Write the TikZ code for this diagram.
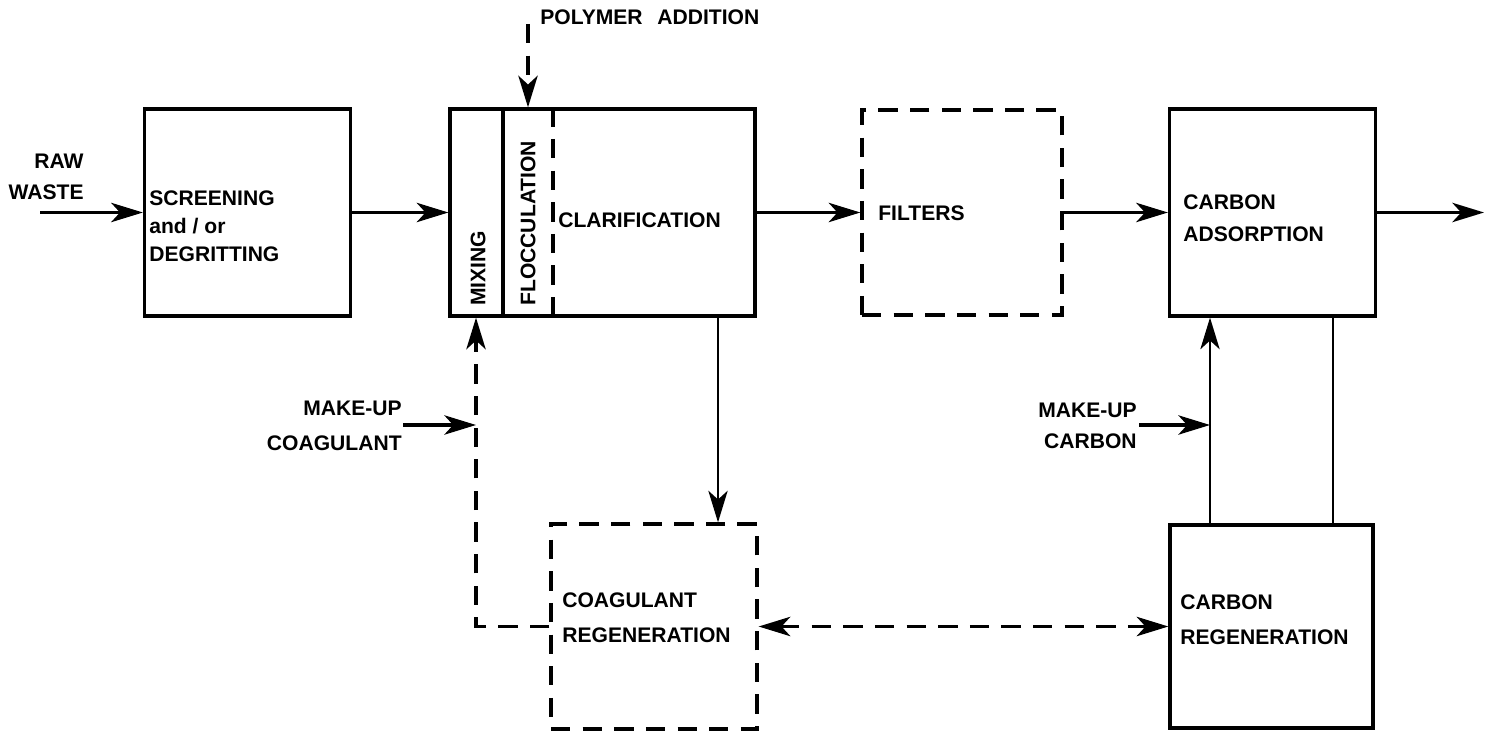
\documentclass[tikz,border=0pt]{standalone}
\usepackage{fontspec}
\setmainfont{Liberation Sans}
\usetikzlibrary{arrows.meta}
\tikzstyle{blk}=[draw,line width=1.9pt,inner sep=0pt,minimum width=4.12cm,minimum height=4.14cm]
\tikzstyle{dblk}=[blk,dash pattern=on 11pt off 7pt]
\tikzstyle{txt}=[inner sep=0pt,font=\bfseries\fontsize{12}{18}\selectfont,align=left]
\tikzstyle{arr}=[line width=1.9pt,->]
\tikzstyle{darr}=[arr,dash pattern=on 11pt off 7pt]
\tikzstyle{thinln}=[line width=1.3pt]

\begin{document}
\begin{tikzpicture}[x=.02cm,y=-.02cm,>={Stealth[length=18pt,width=11pt,inset=5pt]}]
\useasboundingbox (0,0) rectangle (1486,733);
% process boxes
\node[blk] (scr) at (247.5,212.5) {};
\node[blk,minimum width=6.1cm] (clar) at (602.5,212.5) {};
\node[dblk,minimum width=4cm,minimum height=4.1cm] (filt) at (962,212.5) {};
\node[blk] (cads) at (1272.5,212.5) {};
\node[dblk,minimum height=4.1cm] (creg) at (654,626.5) {};
\node[blk,minimum width=4.06cm,minimum height=4.06cm] (kreg) at (1271.5,626.5) {};
% labels
\node[txt,align=right,anchor=east] (rawt) at (84,177) {RAW\\WASTE};
\node[txt,anchor=west,font=\bfseries\fontsize{12}{16}\selectfont] (scrt) at (149,226) {SCREENING\\and / or\\DEGRITTING};
\node[txt,rotate=90,anchor=west] (mixt) at (478,306) {MIXING};
\node[txt,rotate=90,anchor=west] (floct) at (528,306) {FLOCCULATION};
\node[txt,anchor=west] (clart) at (558,220) {CLARIFICATION};
\node[txt,anchor=west] (filtt) at (878,213) {FILTERS};
\node[txt,anchor=west] (cadst) at (1183,218) {CARBON\\ADSORPTION};
\node[txt,anchor=west,font=\bfseries\fontsize{12}{20}\selectfont] (cregt) at (562,618) {COAGULANT\\REGENERATION};
\node[txt,anchor=west,font=\bfseries\fontsize{12}{20}\selectfont] (kregt) at (1180,620) {CARBON\\REGENERATION};
\node[txt,anchor=west] (polyt) at (540,17) {POLYMER\hspace{.7em}ADDITION};
\node[txt,align=right,anchor=east,font=\bfseries\fontsize{12}{20}\selectfont] (mkct) at (402,426) {MAKE-UP\\COAGULANT};
\node[txt,align=right,anchor=east,font=\bfseries\fontsize{12}{18}\selectfont] (mkkt) at (1137,426) {MAKE-UP\\CARBON};
% free ends and drop points
\coordinate (rawin) at (40,212.5);
\coordinate (out) at (1484,212.5);
\coordinate (mx) at (503,0);
\coordinate (fl) at (553,0);
\coordinate (poly) at (528,24);
\coordinate (cd) at (718,0);
\coordinate (mr) at (476,0);
\coordinate (mcin) at (403,425);
\coordinate (cu) at (1210,0);
\coordinate (cr) at (1333,0);
\coordinate (mkin) at (1139,425);
% main line
\draw[arr] (rawin) -- (scr.west);
\draw[arr] (scr.east) -- (clar.west);
\draw[arr] (clar.east) -- (filt.west);
\draw[arr] (filt.east) -- (cads.west);
\draw[arr] (cads.east) -- (out);
% clarifier compartments
\draw[line width=1.9pt] (clar.north -| mx) -- (clar.south -| mx);
\draw[line width=1.9pt,dash pattern=on 11pt off 7pt] (clar.north -| fl) -- (clar.south -| fl);
\draw[darr] (poly) -- (poly |- clar.north);
% coagulant loop
\draw[arr,thinln] (clar.south -| cd) -- (creg.north -| cd);
\draw[darr] (creg.west) -| (clar.south -| mr);
\draw[arr] (mcin) -- (mcin -| mr);
% carbon loop
\draw[arr,thinln] (kreg.north -| cu) -- (cads.south -| cu);
\draw[thinln] (kreg.north -| cr) -- (cads.south -| cr);
\draw[arr] (mkin) -- (mkin -| cu);
\draw[darr,<->] (creg.east) -- (kreg.west);
\end{tikzpicture}
\end{document}
